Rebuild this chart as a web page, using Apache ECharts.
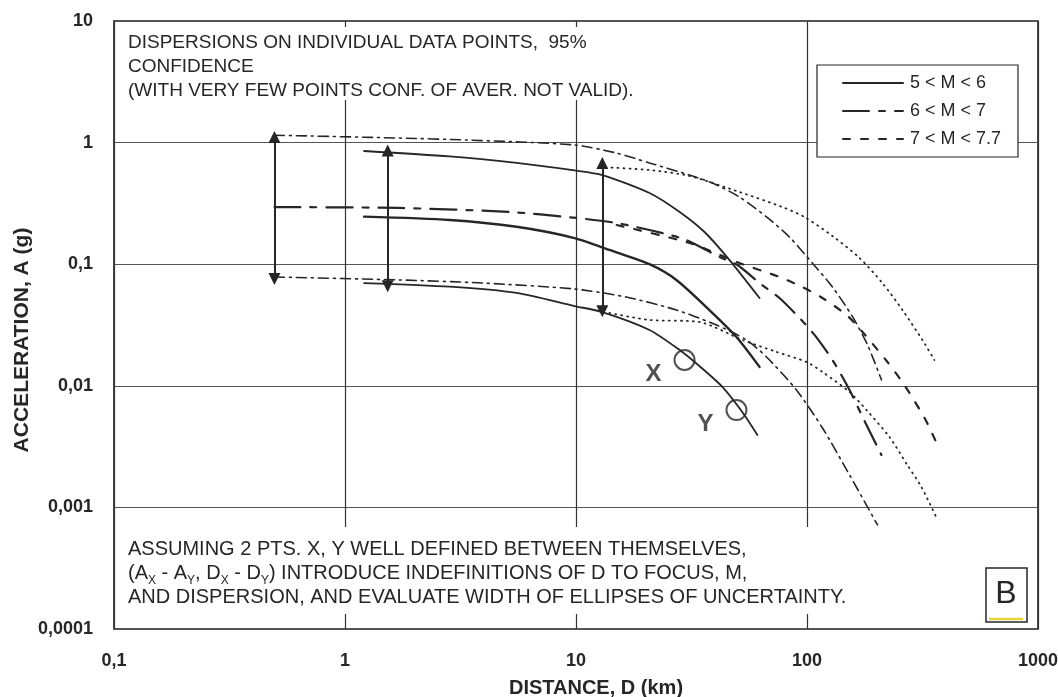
<!DOCTYPE html>
<html>
<head>
<meta charset="utf-8">
<script src="https://cdn.jsdelivr.net/npm/echarts/dist/echarts.min.js"></script>
<style>
  html, body { margin: 0; padding: 0; background: #ffffff; }
  #chart { width: 1058px; height: 697px; }
</style>
</head>
<body>
<div id="chart"></div>
<script>
// ---------- data (distance D in km, acceleration A in g) ----------
const xTickLabels = ['0,1', '1', '10', '100', '1000'];
const yTickLabels = ['0,0001', '0,001', '0,01', '0,1', '1', '10'];
const groupNames = ['5 < M < 6', '6 < M < 7', '7 < M < 7.7'];

// 5 < M < 6 (solid)
const m56Upper = [[1.21,0.853],[2.84,0.769],[5.53,0.68],[9.85,0.59],[13.0,0.541],[20.8,0.385],[28.1,0.269],[36.0,0.184],[46.2,0.108],[62.3,0.0527]];
const m56Mean  = [[1.21,0.246],[2.84,0.231],[5.53,0.203],[9.85,0.164],[13.96,0.131],[20.8,0.100],[27.2,0.0742],[37.8,0.042],[49.5,0.0252],[62.3,0.0143]];
const m56Lower = [[1.21,0.070],[2.84,0.0653],[5.53,0.058],[9.85,0.0453],[13.0,0.0404],[20.8,0.0288],[28.1,0.0197],[34.2,0.01455],[43.1,0.00977],[52.1,0.0062],[61.0,0.00394]];

// 6 < M < 7
const m67Upper = [[0.495,1.15],[1.72,1.09],[3.36,1.05],[9.85,0.956],[15.0,0.82],[20.8,0.68],[31.0,0.541],[39.0,0.465],[51.0,0.357],[66.8,0.245],[84.0,0.167],[105.6,0.102],[128.9,0.065],[157.4,0.037],[182.8,0.0217],[210,0.0112]];
const m67Mean  = [[0.495,0.295],[1.72,0.29],[5.15,0.269],[10.05,0.24],[15.0,0.218],[23.7,0.18],[30.1,0.158],[41.8,0.1146],[50.0,0.0985],[62.3,0.070],[76.0,0.0527],[92.8,0.0361],[107.8,0.0262],[128.9,0.0163],[152.8,0.00924],[174.0,0.00554],[210,0.0027]];
const m67Lower = [[0.495,0.0785],[1.72,0.0742],[3.94,0.070],[9.85,0.0625],[16.5,0.0537],[27.2,0.042],[40.6,0.0316],[54.7,0.0238],[66.8,0.01726],[90.0,0.00924],[116.7,0.0045],[152.8,0.00185],[202,0.000717]];

// 7 < M < 7.7
const m77Upper = [[12.64,0.63],[20.8,0.595],[31.0,0.531],[51.0,0.3925],[78.3,0.295],[97.5,0.2445],[128.9,0.1706],[168.8,0.1125],[212,0.070],[259,0.042],[316,0.0238],[356,0.0163]];
const m77Mean  = [[15.0,0.21],[31.0,0.1494],[51.0,0.1023],[76.0,0.0785],[95.6,0.0649],[116.7,0.0527],[148.3,0.0382],[174.0,0.0277],[223,0.0157],[264,0.01015],[323,0.00543],[364,0.00338]];
const m77Lower = [[13.96,0.0397],[20.8,0.0348],[34.2,0.0335],[52.6,0.0238],[73.8,0.019],[99.5,0.0157],[116.7,0.013],[152.8,0.0089],[181,0.00632],[227.6,0.00379],[272,0.00223],[313,0.00147],[364,0.000818]];

// dispersion arrows
const arrowDist   = [0.495, 1.53, 13.0];
const arrowTop    = [1.11, 0.86, 0.68];
const arrowBottom = [0.0755, 0.066, 0.041];

// points X, Y
const pointDist   = [29.5, 49.5];
const pointAcc    = [0.0163, 0.00632];
const pointLabels = ['X', 'Y'];

// notes
const noteTop = ['DISPERSIONS ON INDIVIDUAL DATA POINTS,  95%', 'CONFIDENCE', '(WITH VERY FEW POINTS CONF. OF AVER. NOT VALID).'];
const noteBottom = ['ASSUMING 2 PTS. X, Y WELL DEFINED BETWEEN THEMSELVES,',
                    '(A{s|X} - A{s|Y}, D{s|X} - D{s|Y}) INTRODUCE INDEFINITIONS OF D TO FOCUS, M,',
                    'AND DISPERSION, AND EVALUATE WIDTH OF ELLIPSES OF UNCERTAINTY.'];
const xAxisTitle = 'DISTANCE, D (km)';
const yAxisTitle = 'ACCELERATION, A (g)';
const panelLetter = 'B';

// ---------- chart ----------
const FONT = '"Liberation Sans", Arial, sans-serif';
const INK = '#262626';
const chart = echarts.init(document.getElementById('chart'), null, { renderer: 'canvas' });

function curve(name, data, type, width) {
  return {
    type: 'line', name: name, data: data, symbol: 'none', smooth: 0.25,
    silent: true, animation: false, z: 2, color: INK,
    itemStyle: { color: INK },
    lineStyle: { color: INK, width: width, type: type, cap: 'round' }
  };
}

const dashDot = [10, 5, 2, 5];
const longShort = [26, 10, 6, 10];
const shortDash = [7, 11];
const dotted = [1, 5];

const series = [
  curve(groupNames[0], m56Mean, 'solid', 2.4),
  curve(groupNames[1], m67Mean, longShort, 2.2),
  curve(groupNames[2], m77Mean, shortDash, 2.2),
  curve(groupNames[0], m56Upper, 'solid', 1.8),
  curve(groupNames[0], m56Lower, 'solid', 1.8),
  curve(groupNames[1], m67Upper, dashDot, 1.6),
  curve(groupNames[1], m67Lower, dashDot, 1.6),
  curve(groupNames[2], m77Upper, dotted, 1.8),
  curve(groupNames[2], m77Lower, dotted, 1.8),
  {
    type: 'lines', coordinateSystem: 'cartesian2d', silent: true, animation: false, z: 3,
    symbol: ['triangle', 'triangle'], symbolSize: 12,
    lineStyle: { color: INK, width: 2, opacity: 1, curveness: 0 },
    data: arrowDist.map((d, i) => ({ coords: [[d, arrowTop[i]], [d, arrowBottom[i]]] }))
  },
  {
    type: 'scatter', silent: true, animation: false, z: 4,
    symbol: 'circle', symbolSize: 20,
    itemStyle: { color: 'rgba(255,255,255,0)', borderColor: INK, borderWidth: 2 },
    label: {
      show: true, position: 'inside', offset: [-31, 14],
      formatter: p => pointLabels[p.dataIndex],
      fontFamily: FONT, fontSize: 24, fontWeight: 'bold', color: INK
    },
    data: pointDist.map((d, i) => [d, pointAcc[i]])
  }
];

const option = {
  backgroundColor: '#ffffff',
  animation: false,
  grid: {
    left: 114, right: 20, top: 21, bottom: 68, containLabel: false, outerBoundsMode: 'none',
    show: true, borderColor: '#1e1e1e', borderWidth: 1.6, backgroundColor: 'transparent'
  },
  xAxis: {
    type: 'log', logBase: 10, min: 0.1, max: 1000, splitNumber: 4,
    axisLine: { show: false }, axisTick: { show: false },
    splitLine: { show: true, lineStyle: { color: '#333', width: 1.2 } },
    axisLabel: {
      margin: 23, color: INK, fontFamily: FONT, fontSize: 18, fontWeight: 'bold',
      formatter: v => xTickLabels[Math.round(Math.log10(v)) + 1]
    }
  },
  yAxis: {
    type: 'log', logBase: 10, min: 0.0001, max: 10, splitNumber: 5,
    axisLine: { show: false }, axisTick: { show: false },
    splitLine: { show: true, lineStyle: { color: '#555', width: 1 } },
    axisLabel: {
      margin: 21, color: INK, fontFamily: FONT, fontSize: 18, fontWeight: 'bold',
      formatter: v => yTickLabels[Math.round(Math.log10(v)) + 4]
    }
  },
  legend: {
    show: true, orient: 'vertical', left: 842, top: 74,
    itemWidth: 60, itemHeight: 14, itemGap: 10, padding: 0,
    selectedMode: false,
    itemStyle: { opacity: 0 },
    data: groupNames,
    textStyle: { fontFamily: FONT, fontSize: 18, color: INK, padding: [0, 0, 0, 2] }
  },
  graphic: [
    // white background behind notes (hides the grid lines there)
    { type: 'rect', z: 3, silent: true, shape: { x: 116, y: 27, width: 575, height: 73 }, style: { fill: '#ffffff' } },
    { type: 'rect', z: 3, silent: true, shape: { x: 116, y: 527, width: 750, height: 87 }, style: { fill: '#ffffff' } },
    // legend frame
    { type: 'rect', z: 3, silent: true, shape: { x: 817, y: 65, width: 201, height: 92 }, style: { fill: '#ffffff', stroke: INK, lineWidth: 1.2 } },
    // notes
    { type: 'text', z: 5, silent: true, x: 128, y: 31,
      style: { text: noteTop.join('\n'), font: '19px ' + FONT, fill: INK, lineHeight: 24, textVerticalAlign: 'top' } },
    { type: 'text', z: 5, silent: true, x: 128, y: 537,
      style: { text: noteBottom.join('\n'), fontFamily: FONT, fontSize: 20, fill: INK, lineHeight: 24,
               rich: { s: { fontFamily: FONT, fontSize: 12, fill: INK, verticalAlign: 'bottom', lineHeight: 24, padding: [0, 0, -2, 0] } } } },
    // panel letter box
    { type: 'rect', z: 5, silent: true, shape: { x: 986, y: 568, width: 41, height: 54 }, style: { fill: '#ffffff', stroke: INK, lineWidth: 1.5 } },
    { type: 'line', z: 6, silent: true, shape: { x1: 989, y1: 619, x2: 1023, y2: 619 }, style: { stroke: '#e3d63c', lineWidth: 2.5 } },
    { type: 'text', z: 6, silent: true, x: 1006, y: 594,
      style: { text: panelLetter, font: '32px ' + FONT, fill: INK, textAlign: 'center', textVerticalAlign: 'middle' } },
    // axis titles
    { type: 'text', z: 5, silent: true, x: 596, y: 688,
      style: { text: xAxisTitle, font: 'bold 20px ' + FONT, fill: INK, textAlign: 'center', textVerticalAlign: 'middle' } },
    { type: 'text', z: 5, silent: true, x: 22, y: 340, rotation: Math.PI / 2,
      style: { text: yAxisTitle, font: 'bold 21px ' + FONT, fill: INK, textAlign: 'center', textVerticalAlign: 'middle' } }
  ],
  series: series
};
chart.setOption(option);
</script>
</body>
</html>
